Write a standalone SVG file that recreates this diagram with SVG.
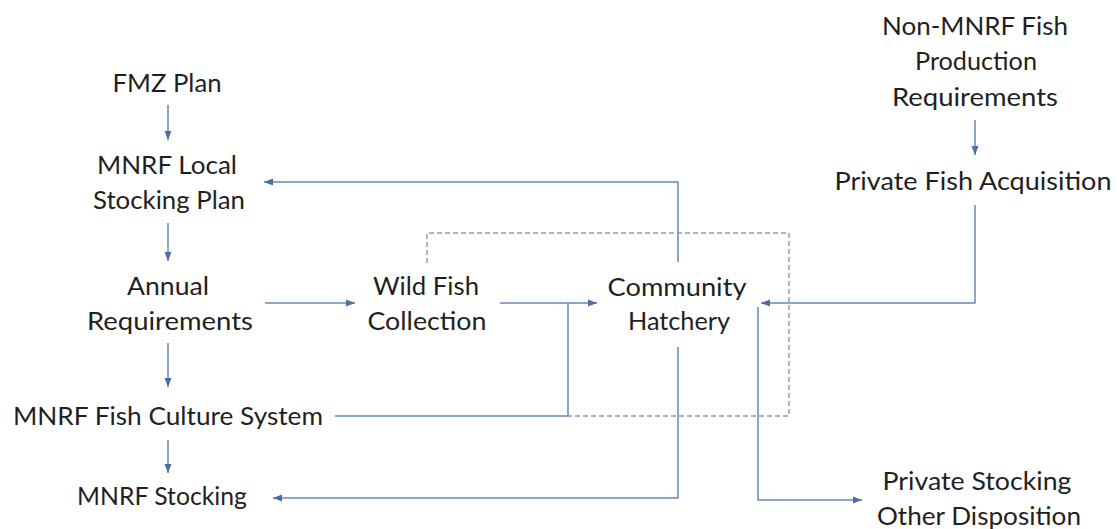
<svg xmlns="http://www.w3.org/2000/svg" width="1117" height="529" viewBox="0 0 1117 529">
<defs>
<style>
text{font-family:Lato,"Open Sans","Liberation Sans",sans-serif;font-size:25px;fill:#1f1f1f;text-anchor:middle}
.c{fill:none;stroke:#6a87b8;stroke-width:1.5}
.d{fill:none;stroke:#939db0;stroke-width:1.5;stroke-dasharray:5 3}
</style>
<marker id="ah" markerUnits="userSpaceOnUse" markerWidth="10" markerHeight="8" refX="9" refY="4" orient="auto">
<path d="M0,0.5 L9,4 L0,7.5 z" fill="#4a6ea8"/>
</marker>
</defs>
<rect width="1117" height="529" fill="#ffffff"/>
<g id="connectors">
<path class="c" d="M168 105 V140" marker-end="url(#ah)"/>
<path class="c" d="M168 223 V261" marker-end="url(#ah)"/>
<path class="c" d="M168 343 V387" marker-end="url(#ah)"/>
<path class="c" d="M168 440 V473" marker-end="url(#ah)"/>
<path class="c" d="M975 120 V155" marker-end="url(#ah)"/>
<path class="c" d="M265 303 H355" marker-end="url(#ah)"/>
<path class="c" d="M500 303 H597" marker-end="url(#ah)"/>
<path class="c" d="M335 416 H568 V303"/>
<path class="c" d="M678 262 V182 H264" marker-end="url(#ah)"/>
<path class="c" d="M678 347 V498 H273" marker-end="url(#ah)"/>
<path class="c" d="M975 205 V303 H761" marker-end="url(#ah)"/>
<path class="c" d="M758 307 V500 H862" marker-end="url(#ah)"/>
<path class="d" d="M427 263 V233 H789 V416 H568"/>
</g>
<g id="fmz-plan"><text x="167" y="92" textLength="109" lengthAdjust="spacingAndGlyphs">FMZ Plan</text></g>
<g id="mnrf-local-stocking-plan">
<text x="167" y="174" textLength="140" lengthAdjust="spacingAndGlyphs">MNRF Local</text>
<text x="169" y="209" textLength="152" lengthAdjust="spacingAndGlyphs">Stocking Plan</text>
</g>
<g id="annual-requirements">
<text x="168" y="295" textLength="82" lengthAdjust="spacingAndGlyphs">Annual</text>
<text x="170" y="330" textLength="166" lengthAdjust="spacingAndGlyphs">Requirements</text>
</g>
<g id="mnrf-fish-culture-system"><text x="168" y="425" textLength="310" lengthAdjust="spacingAndGlyphs">MNRF Fish Culture System</text></g>
<g id="mnrf-stocking"><text x="162" y="505" textLength="170" lengthAdjust="spacingAndGlyphs">MNRF Stocking</text></g>
<g id="wild-fish-collection">
<text x="426" y="295" textLength="106" lengthAdjust="spacingAndGlyphs">Wild Fish</text>
<text x="427" y="330" textLength="119" lengthAdjust="spacingAndGlyphs">Collection</text>
</g>
<g id="community-hatchery">
<text x="677" y="296" textLength="139" lengthAdjust="spacingAndGlyphs">Community</text>
<text x="679" y="330" textLength="102" lengthAdjust="spacingAndGlyphs">Hatchery</text>
</g>
<g id="non-mnrf-requirements">
<text x="975" y="35" textLength="186" lengthAdjust="spacingAndGlyphs">Non-MNRF Fish</text>
<text x="976" y="70" textLength="122" lengthAdjust="spacingAndGlyphs">Production</text>
<text x="975" y="106" textLength="166" lengthAdjust="spacingAndGlyphs">Requirements</text>
</g>
<g id="private-fish-acquisition"><text x="973" y="190" textLength="277" lengthAdjust="spacingAndGlyphs">Private Fish Acquisition</text></g>
<g id="private-stocking">
<text x="977" y="490" textLength="189" lengthAdjust="spacingAndGlyphs">Private Stocking</text>
<text x="979" y="525" textLength="204" lengthAdjust="spacingAndGlyphs">Other Disposition</text>
</g>
</svg>
